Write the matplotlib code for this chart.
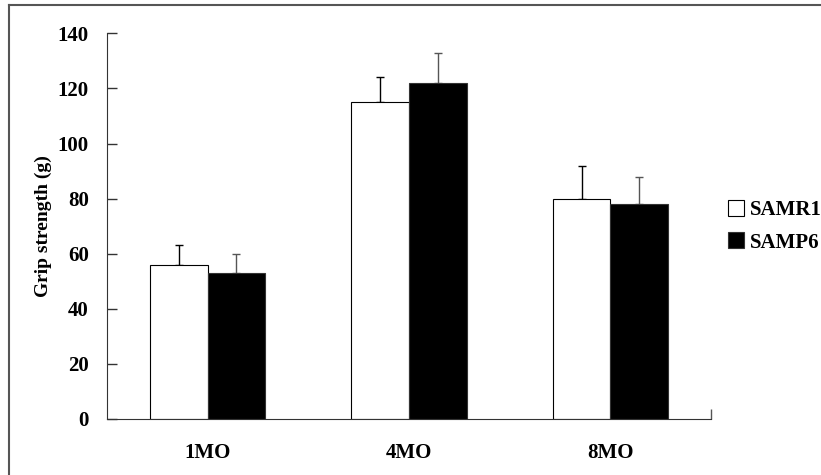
import matplotlib
matplotlib.use("Agg")
import matplotlib.pyplot as plt
from matplotlib.lines import Line2D
import numpy as np

categories = ["1MO", "4MO", "8MO"]
samr1 = [56, 115, 80]
samr1_err = [7, 9, 12]
samp6 = [53, 122, 78]
samp6_err = [7, 11, 10]
yticks = [0, 20, 40, 60, 80, 100, 120, 140]

plt.rcParams['font.family'] = ['Liberation Serif', 'DejaVu Serif']
plt.rcParams['font.weight'] = 'bold'

fig = plt.figure(figsize=(8.21, 4.75), dpi=100)
ax = fig.add_axes([107/821, 1-419/475, 604/821, (419-33.3)/475])

x = np.arange(len(categories))
w = 0.286
ax.bar(x - w/2, samr1, w, color='white', edgecolor='black', linewidth=0.8, label='SAMR1', zorder=2)
ax.bar(x + w/2, samp6, w, color='black', edgecolor='#333333', linewidth=0.8, label='SAMP6', zorder=2)
ax.errorbar(x - w/2, samr1, yerr=[np.zeros(3), samr1_err], fmt='none', ecolor='black',
            elinewidth=1.0, capsize=3, capthick=1.0, zorder=1)
ax.errorbar(x + w/2, samp6, yerr=[np.zeros(3), samp6_err], fmt='none', ecolor='#555555',
            elinewidth=1.0, capsize=3, capthick=1.0, zorder=1)

ax.set_xlim(-0.5, 2.5)
ax.set_ylim(0, 140)
ax.set_yticks(yticks)
ax.set_yticklabels([str(v) for v in yticks], fontsize=15, fontweight='bold')
ax.set_xticks(x)
ax.set_xticklabels(categories, fontsize=15, fontweight='bold')
ax.tick_params(axis='y', direction='in', length=7, width=1, pad=13, color='#333333')
ax.tick_params(axis='x', which='major', length=0, pad=17)
ax.set_xticks([2.5], minor=True)
ax.tick_params(axis='x', which='minor', direction='in', length=7, width=1, color='#555555')
ax.xaxis.set_minor_formatter(matplotlib.ticker.NullFormatter())
for s in ['top', 'right']:
    ax.spines[s].set_visible(False)
ax.spines['left'].set_color('#333333')
ax.spines['bottom'].set_color('#333333')
ax.set_ylabel('Grip strength (g)', fontsize=14, fontweight='bold', labelpad=4)

leg = ax.legend(loc='center left', bbox_to_anchor=(1.014, 0.5), frameon=False,
                prop={'size': 15, 'weight': 'bold'}, handlelength=0.8, handleheight=0.8,
                handletextpad=0.25, labelspacing=0.6, borderaxespad=0)

# figure border (left and top)
fig.add_artist(Line2D([9/821, 9/821], [0, 1-5/475], transform=fig.transFigure, color='#555555', lw=1.5))
fig.add_artist(Line2D([9/821, 1], [1-5/475, 1-5/475], transform=fig.transFigure, color='#555555', lw=1.5))

fig.savefig('out.png', dpi=100)
